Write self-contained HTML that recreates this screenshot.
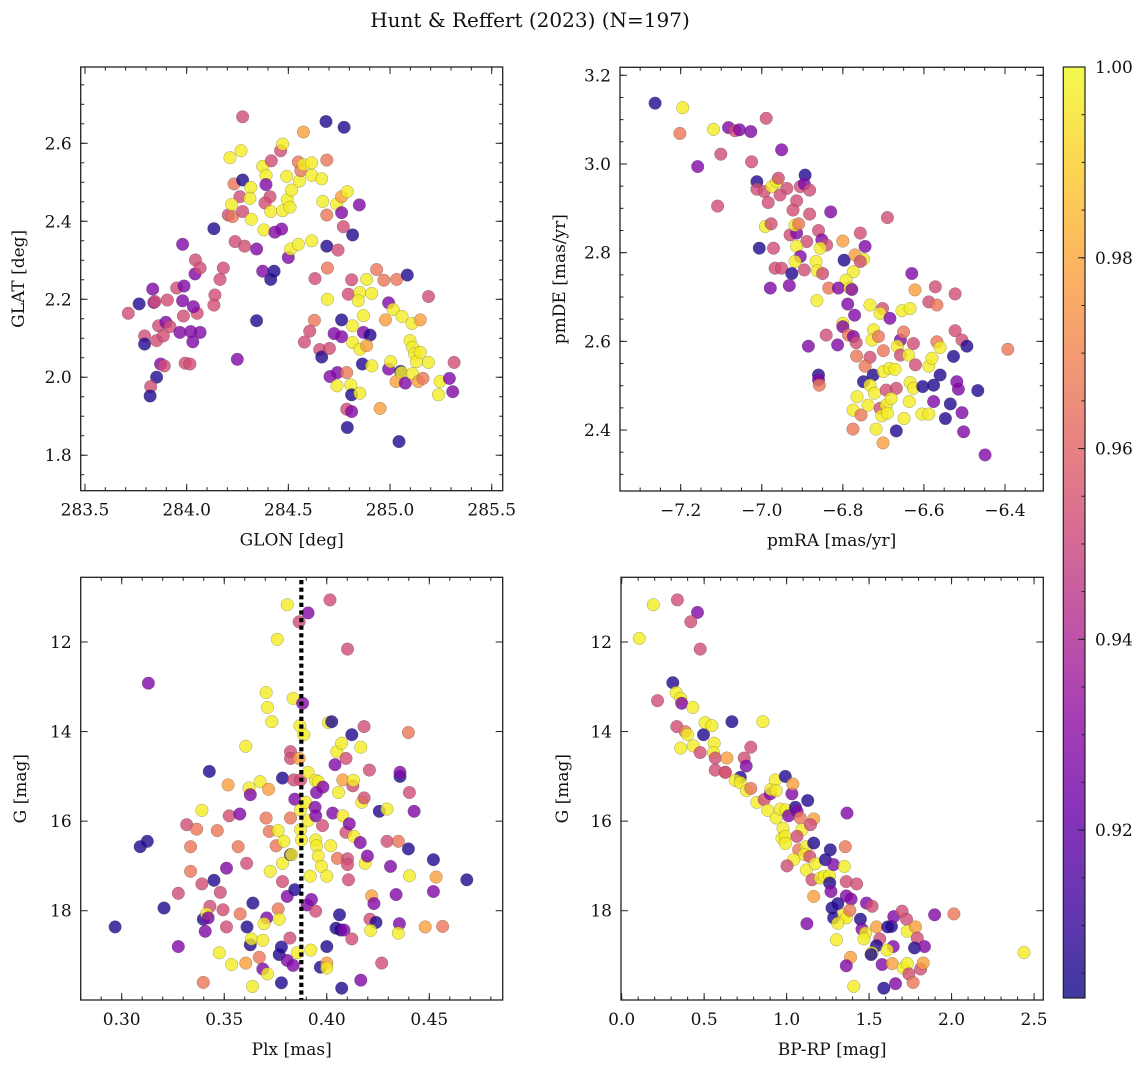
<!DOCTYPE html>
<html><head><meta charset="utf-8">
<style>
html,body{margin:0;padding:0;background:#fff;}
svg{display:block;font-family:"DejaVu Serif","Liberation Serif",serif;}
</style></head>
<body>
<svg id="fig" width="1148" height="1067" viewBox="0 0 1148 1067" xmlns="http://www.w3.org/2000/svg">
<text x="530" y="27" text-anchor="middle" font-size="20" fill="#111">Hunt &amp; Reffert (2023) (N=197)</text>
</svg>
<script>
// ---------- data ----------
const glon=[283.713,283.766,283.833,283.839,283.844,283.793,283.793,283.852,283.862,283.898,283.905,283.885,283.918,283.872,283.890,283.852,283.823,283.820,283.951,283.987,283.980,283.980,283.984,283.967,284.020,284.030,284.066,284.052,284.033,283.993,284.016,284.041,284.043,284.066,284.134,284.164,284.180,284.139,284.134,284.249,284.344,284.238,284.285,284.344,284.275,284.205,284.226,284.275,284.262,284.233,284.275,284.213,284.267,284.221,284.315,284.311,284.318,284.374,284.390,284.390,284.416,284.380,284.410,284.385,284.413,284.434,284.467,284.374,284.413,284.430,284.462,284.472,284.472,284.495,284.492,284.508,284.516,284.500,284.511,284.549,284.554,284.549,284.561,284.574,284.574,284.615,284.615,284.615,284.664,284.685,284.689,284.774,284.669,284.689,284.738,284.762,284.790,284.762,284.770,284.816,284.849,284.689,284.744,284.631,284.692,284.692,284.811,284.795,284.852,284.844,284.885,284.910,284.934,284.970,285.033,285.085,285.189,284.993,285.015,284.977,285.059,285.108,285.149,284.628,284.605,284.579,284.654,284.664,284.702,284.725,284.762,284.762,284.816,284.869,284.869,284.902,284.816,284.852,284.885,284.864,284.910,284.705,284.741,284.787,284.739,284.807,284.811,284.852,284.787,284.811,284.790,284.951,284.993,285.003,285.052,285.030,285.057,285.075,285.098,285.111,285.121,285.130,285.149,285.111,285.139,285.162,285.189,285.246,285.238,285.292,285.308,285.315,285.044];
const glat=[2.164,2.188,2.226,2.192,2.194,2.106,2.085,2.094,2.132,2.141,2.198,2.106,2.130,2.034,2.029,2.000,1.976,1.952,2.229,2.234,2.196,2.341,2.157,2.115,2.117,2.091,2.115,2.164,2.181,2.036,2.034,2.265,2.301,2.280,2.381,2.251,2.280,2.211,2.185,2.046,2.145,2.348,2.336,2.329,2.668,2.416,2.412,2.425,2.463,2.496,2.506,2.563,2.581,2.443,2.487,2.459,2.405,2.541,2.518,2.494,2.555,2.378,2.463,2.447,2.425,2.372,2.380,2.272,2.251,2.272,2.581,2.598,2.427,2.455,2.515,2.436,2.480,2.307,2.329,2.341,2.503,2.552,2.530,2.629,2.545,2.550,2.518,2.350,2.509,2.656,2.557,2.641,2.451,2.416,2.444,2.463,2.476,2.422,2.386,2.365,2.442,2.336,2.326,2.253,2.280,2.200,2.250,2.213,2.217,2.196,2.251,2.215,2.276,2.249,2.251,2.262,2.207,2.191,2.174,2.147,2.156,2.138,2.147,2.146,2.118,2.090,2.071,2.052,2.074,2.112,2.104,2.147,2.132,2.158,2.115,2.108,2.089,2.072,2.081,2.034,2.029,2.002,2.012,2.012,1.978,1.980,1.955,1.959,1.918,1.912,1.871,1.920,2.021,2.040,2.015,1.989,2.012,1.985,2.094,2.077,2.060,2.040,2.064,2.009,1.989,1.997,2.038,1.989,1.955,1.997,1.963,2.038,1.835];
const probA=[0.953,0.906,0.928,0.928,0.953,0.953,0.906,0.953,0.953,0.928,0.953,0.953,0.953,0.928,0.953,0.906,0.953,0.906,0.953,0.928,0.928,0.928,0.953,0.928,0.928,0.928,0.928,0.953,0.928,0.953,0.953,0.928,0.953,0.953,0.906,0.953,0.953,0.953,0.953,0.928,0.906,0.953,0.953,0.928,0.953,0.953,0.966,0.953,0.953,0.966,0.906,0.997,0.997,0.997,0.997,0.997,0.997,0.997,0.997,0.928,0.953,0.997,0.953,0.953,0.997,0.928,0.928,0.928,0.906,0.906,0.953,0.997,0.997,0.997,0.997,0.997,0.997,0.928,0.997,0.997,0.997,0.966,0.966,0.978,0.997,0.997,0.997,0.997,0.997,0.906,0.966,0.906,0.997,0.966,0.997,0.978,0.997,0.928,0.953,0.906,0.928,0.906,0.953,0.953,0.966,0.997,0.953,0.953,0.997,0.997,0.997,0.997,0.966,0.966,0.966,0.906,0.953,0.928,0.997,0.978,0.997,0.997,0.978,0.966,0.953,0.953,0.953,0.906,0.953,0.928,0.928,0.906,0.997,0.997,0.928,0.906,0.997,0.997,0.978,0.906,0.997,0.928,0.928,0.966,0.997,0.997,0.906,0.997,0.953,0.928,0.906,0.978,0.928,0.997,0.906,0.978,0.997,0.928,0.997,0.997,0.997,0.997,0.997,0.997,0.978,0.966,0.997,0.997,0.997,0.928,0.928,0.953,0.906];

const pmra=[-7.263,-7.195,-7.202,-7.119,-7.082,-7.066,-7.055,-7.027,-6.989,-6.951,-7.101,-7.158,-7.025,-7.109,-7.012,-7.012,-6.994,-6.975,-6.963,-6.959,-6.938,-6.955,-6.984,-6.914,-6.905,-6.893,-6.895,-6.882,-6.923,-6.882,-6.830,-6.991,-6.977,-6.930,-6.914,-6.918,-6.909,-6.889,-6.860,-6.852,-6.840,-6.856,-6.914,-6.971,-7.006,-6.905,-6.918,-6.895,-6.967,-6.951,-6.926,-6.979,-6.932,-6.866,-6.863,-6.850,-6.835,-6.864,-6.800,-6.797,-6.770,-6.757,-6.745,-6.749,-6.757,-6.774,-6.792,-6.811,-6.782,-6.778,-6.788,-6.771,-6.690,-6.630,-6.622,-6.572,-6.523,-6.588,-6.568,-6.733,-6.702,-6.708,-6.684,-6.654,-6.634,-6.800,-6.800,-6.786,-6.774,-6.767,-6.724,-6.728,-6.712,-6.841,-6.813,-6.885,-6.658,-6.650,-6.626,-6.666,-6.568,-6.560,-6.523,-6.506,-6.494,-6.393,-6.766,-6.733,-6.700,-6.745,-6.725,-6.700,-6.685,-6.671,-6.658,-6.638,-6.621,-6.588,-6.580,-6.527,-6.560,-6.860,-6.860,-6.858,-6.749,-6.733,-6.722,-6.693,-6.668,-6.634,-6.626,-6.603,-6.576,-6.519,-6.515,-6.467,-6.765,-6.775,-6.755,-6.738,-6.708,-6.693,-6.681,-6.704,-6.690,-6.649,-6.636,-6.605,-6.588,-6.576,-6.547,-6.535,-6.506,-6.502,-6.775,-6.718,-6.668,-6.701,-6.449];
const pmde=[3.137,3.127,3.069,3.078,3.082,3.075,3.077,3.073,3.103,3.032,3.022,2.994,3.005,2.905,2.960,2.943,2.938,2.949,2.960,2.968,2.945,2.930,2.913,2.917,2.949,2.975,2.955,2.941,2.896,2.887,2.892,2.859,2.865,2.840,2.844,2.862,2.865,2.825,2.850,2.829,2.817,2.810,2.814,2.810,2.810,2.791,2.780,2.761,2.765,2.765,2.753,2.720,2.726,2.780,2.759,2.753,2.720,2.692,2.826,2.783,2.795,2.844,2.814,2.785,2.780,2.757,2.738,2.720,2.720,2.717,2.684,2.659,2.879,2.753,2.716,2.723,2.707,2.689,2.682,2.682,2.674,2.663,2.652,2.669,2.674,2.641,2.633,2.614,2.611,2.597,2.626,2.603,2.611,2.614,2.592,2.589,2.603,2.621,2.595,2.589,2.599,2.586,2.624,2.603,2.589,2.582,2.567,2.564,2.579,2.544,2.524,2.532,2.539,2.537,2.569,2.569,2.547,2.544,2.562,2.566,2.524,2.524,2.513,2.501,2.509,2.501,2.483,2.490,2.494,2.507,2.494,2.498,2.501,2.509,2.492,2.489,2.475,2.445,2.434,2.456,2.449,2.456,2.471,2.432,2.438,2.426,2.464,2.436,2.436,2.464,2.426,2.459,2.439,2.396,2.402,2.402,2.398,2.371,2.344];
const probB=[0.906,0.997,0.966,0.997,0.928,0.953,0.928,0.928,0.953,0.928,0.953,0.928,0.953,0.953,0.906,0.953,0.953,0.997,0.997,0.953,0.953,0.953,0.953,0.953,0.953,0.906,0.928,0.953,0.953,0.953,0.928,0.997,0.953,0.953,0.928,0.997,0.966,0.953,0.953,0.928,0.953,0.997,0.997,0.953,0.906,0.928,0.997,0.953,0.953,0.953,0.906,0.928,0.928,0.997,0.997,0.953,0.966,0.997,0.978,0.906,0.978,0.953,0.928,0.997,0.953,0.997,0.997,0.928,0.997,0.928,0.928,0.928,0.953,0.928,0.978,0.953,0.953,0.953,0.966,0.997,0.953,0.997,0.928,0.997,0.997,0.997,0.928,0.966,0.928,0.953,0.997,0.997,0.966,0.953,0.928,0.928,0.928,0.966,0.953,0.997,0.966,0.997,0.953,0.953,0.906,0.966,0.966,0.953,0.966,0.966,0.906,0.997,0.997,0.997,0.953,0.997,0.953,0.997,0.997,0.906,0.906,0.906,0.928,0.966,0.906,0.997,0.997,0.953,0.953,0.997,0.997,0.906,0.906,0.928,0.928,0.906,0.997,0.997,0.966,0.997,0.953,0.997,0.997,0.997,0.997,0.997,0.997,0.997,0.997,0.928,0.906,0.906,0.928,0.928,0.966,0.997,0.906,0.978,0.928];

const plx=[0.2968,0.3090,0.3125,0.3130,0.3206,0.3276,0.3276,0.3317,0.3365,0.3336,0.3336,0.3391,0.3391,0.3398,0.3398,0.3430,0.3414,0.3422,0.3407,0.3427,0.3450,0.3466,0.3476,0.3481,0.3494,0.3511,0.3511,0.3519,0.3524,0.3536,0.3568,0.3576,0.3578,0.3605,0.3609,0.3605,0.3611,0.3621,0.3627,0.3640,0.3627,0.3633,0.3638,0.3675,0.3671,0.3688,0.3704,0.3704,0.3707,0.3694,0.3688,0.3711,0.3711,0.3716,0.3720,0.3724,0.3732,0.3759,0.3763,0.3753,0.3763,0.3768,0.3768,0.3779,0.3779,0.3784,0.3784,0.3784,0.3791,0.3807,0.3807,0.3807,0.3820,0.3823,0.3828,0.3823,0.3823,0.3823,0.3836,0.3836,0.3839,0.3844,0.3844,0.3856,0.3865,0.3865,0.3869,0.3872,0.3872,0.3872,0.3877,0.3882,0.3888,0.3898,0.3909,0.3909,0.3904,0.3909,0.3925,0.3946,0.3922,0.3919,0.3943,0.3946,0.3946,0.3958,0.3950,0.3946,0.3950,0.3958,0.3974,0.3979,0.3969,0.3981,0.4000,0.4000,0.4000,0.4000,0.4008,0.4019,0.4016,0.4024,0.4029,0.4040,0.4052,0.4057,0.4049,0.4062,0.4045,0.4068,0.4073,0.4078,0.4073,0.4078,0.4084,0.4094,0.4094,0.4101,0.4101,0.4101,0.4106,0.4110,0.4122,0.4127,0.4130,0.4133,0.4122,0.4163,0.4166,0.4166,0.4171,0.4182,0.4182,0.4187,0.4198,0.4208,0.4211,0.4219,0.4230,0.4240,0.4214,0.4256,0.4268,0.4294,0.4294,0.4311,0.4338,0.4349,0.4357,0.4357,0.4354,0.4349,0.4398,0.4398,0.4403,0.4403,0.4426,0.4480,0.4520,0.4520,0.4533,0.4565,0.4683];
const gmagA=[18.36,16.57,16.45,12.92,17.94,18.80,17.61,16.08,16.18,16.57,17.12,17.40,15.76,19.60,18.19,17.90,18.07,18.16,18.46,14.89,17.32,16.21,18.94,17.59,17.98,18.36,17.05,15.19,15.88,19.20,16.57,15.84,18.07,19.17,16.94,14.33,18.36,15.26,15.41,17.83,18.76,18.63,19.69,15.12,19.04,19.30,15.93,13.13,18.16,18.29,18.66,13.46,19.41,15.29,16.23,17.12,13.78,11.94,16.21,16.55,17.96,18.19,18.98,18.81,19.61,15.04,17.35,16.94,16.45,19.11,17.68,11.17,18.61,16.75,16.75,15.93,14.45,14.60,13.26,19.22,15.08,15.51,17.53,18.94,11.55,14.60,13.87,15.08,15.75,16.19,16.42,13.37,14.07,15.58,15.99,11.35,17.87,14.91,17.75,18.01,18.88,17.23,15.69,15.88,15.09,15.12,15.36,16.42,16.55,16.78,17.01,16.10,19.26,15.24,19.17,19.28,18.80,17.23,13.80,16.55,11.06,13.78,15.82,14.74,16.83,15.36,14.45,18.09,18.39,18.43,19.73,15.08,14.26,15.88,18.43,14.60,16.25,12.16,16.84,16.97,17.31,16.06,14.07,15.21,15.09,16.34,18.63,16.48,14.35,19.55,15.58,15.48,13.89,16.94,16.78,14.86,18.19,17.67,17.84,18.26,18.44,15.78,19.17,15.73,16.45,17.01,17.64,16.45,15.00,14.91,18.29,18.50,14.02,16.62,17.22,15.36,15.78,18.36,16.86,17.57,17.25,18.35,17.31];
const probC=[0.906,0.906,0.906,0.928,0.906,0.928,0.953,0.953,0.966,0.966,0.966,0.953,0.997,0.966,0.906,0.953,0.997,0.928,0.928,0.906,0.906,0.966,0.997,0.953,0.953,0.953,0.928,0.978,0.953,0.997,0.966,0.928,0.966,0.978,0.953,0.997,0.906,0.997,0.928,0.906,0.906,0.997,0.997,0.997,0.966,0.928,0.966,0.997,0.928,0.997,0.997,0.997,0.997,0.978,0.966,0.997,0.997,0.997,0.997,0.966,0.966,0.997,0.906,0.906,0.906,0.906,0.953,0.997,0.997,0.928,0.928,0.997,0.953,0.906,0.997,0.966,0.953,0.953,0.997,0.928,0.953,0.928,0.906,0.997,0.953,0.978,0.997,0.953,0.997,0.997,0.997,0.928,0.997,0.997,0.997,0.928,0.928,0.997,0.928,0.953,0.997,0.997,0.928,0.928,0.997,0.997,0.928,0.997,0.997,0.997,0.997,0.953,0.906,0.928,0.978,0.997,0.906,0.997,0.997,0.997,0.953,0.906,0.928,0.928,0.966,0.997,0.997,0.906,0.906,0.906,0.906,0.978,0.997,0.997,0.928,0.953,0.953,0.953,0.953,0.953,0.953,0.928,0.906,0.953,0.997,0.997,0.953,0.928,0.997,0.928,0.997,0.953,0.953,0.997,0.928,0.953,0.953,0.978,0.928,0.906,0.997,0.906,0.953,0.997,0.953,0.928,0.928,0.966,0.906,0.928,0.928,0.997,0.966,0.906,0.997,0.953,0.928,0.978,0.906,0.928,0.978,0.966,0.906];

const bprp=[0.107,0.192,0.338,0.460,0.419,0.476,0.310,0.217,0.330,0.358,0.364,0.431,0.334,0.385,0.399,0.358,0.435,0.476,0.496,0.506,0.547,0.561,0.557,0.567,0.668,0.567,0.628,0.638,0.743,0.755,0.783,0.856,0.628,0.719,0.688,0.719,0.757,0.783,0.820,0.864,0.901,0.905,0.931,0.937,0.885,0.937,0.962,0.992,0.996,0.978,0.972,0.992,0.992,1.012,1.032,1.038,1.053,1.063,1.083,1.093,1.128,1.164,1.144,1.063,1.073,1.119,1.164,1.107,1.043,1.002,1.119,1.140,1.174,1.154,1.164,1.204,1.229,1.261,1.265,1.235,1.261,1.269,1.285,1.350,1.366,1.356,1.362,1.425,1.362,1.391,1.275,1.310,1.285,1.346,1.362,1.310,1.383,1.123,1.302,1.447,1.457,1.484,1.518,1.478,1.468,1.545,1.565,1.545,1.518,1.512,1.387,1.362,1.407,1.613,1.636,1.650,1.646,1.609,1.579,1.640,1.700,1.727,1.731,1.781,1.792,1.775,1.836,1.706,1.731,1.741,1.767,1.812,1.828,1.660,1.589,1.897,2.014,2.439];
const gmagB=[11.92,11.17,11.06,11.34,11.55,12.16,12.91,13.31,13.13,13.26,13.37,13.46,13.89,14.00,14.07,14.37,14.32,14.47,14.07,13.80,13.87,14.26,14.47,14.59,13.78,14.86,14.91,14.59,14.59,14.77,14.35,13.78,14.91,15.02,15.09,15.14,15.32,15.27,15.58,15.52,15.39,15.29,15.08,15.32,15.76,15.93,15.73,15.00,15.75,16.16,16.38,16.34,16.50,15.88,15.39,15.17,15.69,15.78,15.93,16.19,15.54,15.95,16.08,16.34,16.64,16.57,16.49,16.75,16.86,17.00,17.09,16.79,16.95,17.31,17.68,17.27,17.23,17.22,16.64,16.86,17.38,17.57,16.97,17.01,15.82,16.57,17.35,17.40,17.67,17.74,17.94,17.84,18.16,18.09,18.16,18.28,17.99,18.29,18.65,18.19,18.41,17.83,17.90,18.50,18.63,18.36,18.63,18.78,18.94,18.98,19.04,19.23,19.69,18.36,18.35,18.13,18.80,18.88,19.20,19.18,18.01,18.19,18.46,18.36,18.61,18.83,18.80,19.28,19.18,19.41,19.60,19.30,19.17,19.63,19.73,18.09,18.07,18.93];
const probD=[0.997,0.997,0.953,0.928,0.953,0.953,0.906,0.953,0.997,0.997,0.928,0.997,0.953,0.966,0.997,0.997,0.997,0.953,0.906,0.997,0.997,0.997,0.997,0.953,0.906,0.953,0.966,0.978,0.953,0.928,0.953,0.997,0.953,0.906,0.997,0.997,0.997,0.966,0.997,0.953,0.928,0.997,0.997,0.997,0.997,0.997,0.997,0.906,0.997,0.997,0.997,0.997,0.997,0.928,0.928,0.978,0.906,0.928,0.966,0.997,0.906,0.978,0.953,0.953,0.966,0.997,0.906,0.997,0.997,0.953,0.997,0.953,0.997,0.953,0.978,0.997,0.997,0.997,0.906,0.906,0.906,0.928,0.928,0.997,0.928,0.966,0.953,0.953,0.928,0.928,0.906,0.906,0.906,0.997,0.997,0.997,0.966,0.928,0.997,0.906,0.928,0.928,0.953,0.997,0.997,0.978,0.953,0.906,0.997,0.906,0.978,0.928,0.997,0.906,0.906,0.928,0.928,0.997,0.928,0.978,0.953,0.953,0.997,0.978,0.953,0.906,0.928,0.997,0.997,0.953,0.966,0.953,0.978,0.928,0.906,0.928,0.966,0.997];

const plxMedian=[0.3876];
const cbTicks=[0.92,0.94,0.96,0.98,1.00];
const cbMin=0.9024, cbMax=1.0;

// ---------- helpers ----------
const NS="http://www.w3.org/2000/svg";
const svg=document.getElementById('fig');
function mk(tag,attrs,parent){const e=document.createElementNS(NS,tag);for(const k in attrs)e.setAttribute(k,attrs[k]);(parent||svg).appendChild(e);return e;}
const plasmaStops=[[13,8,135],[65,4,157],[106,0,168],[143,13,164],[177,42,144],[204,71,120],[225,100,98],[242,132,75],[252,166,54],[252,206,37],[240,249,33]];
function plasma(t){t=Math.max(0,Math.min(1,t));const s=t*10,i=Math.min(9,Math.floor(s)),f=s-i;const a=plasmaStops[i],b=plasmaStops[i+1];
 return 'rgb('+[0,1,2].map(k=>Math.round(a[k]+(b[k]-a[k])*f)).join(',')+')';}
function cmap(v){return plasma((v-cbMin)/(cbMax-cbMin));}
function fmt(v,d){const s=Math.abs(v).toFixed(d);return (v<-1e-9?'\u2212':'')+s;}
const FS=17;

function panel(cfg){
 const g=mk('g',{});
 
 
 const sx=v=>cfg.px[0]+(v-cfg.xd[0])/(cfg.xd[1]-cfg.xd[0])*(cfg.px[1]-cfg.px[0]);
 const sy=v=>cfg.py[1]-(v-cfg.yd[0])/(cfg.yd[1]-cfg.yd[0])*(cfg.py[1]-cfg.py[0]);
 const pg=mk('g',{},g);
 
 
 for(let i=0;i<cfg.x.length;i++){
  const c=mk('circle',{cx:sx(cfg.x[i]).toFixed(1),cy:sy(cfg.y[i]).toFixed(1),r:6.3,fill:cmap(cfg.c[i]),'fill-opacity':0.8,stroke:'rgba(60,60,60,0.45)','stroke-width':0.5},pg);
  
  
 }
 if(cfg.extra)cfg.extra(g,sx,sy);
 const fr=mk('rect',{x:cfg.px[0],y:cfg.py[0],width:cfg.px[1]-cfg.px[0],height:cfg.py[1]-cfg.py[0],fill:'none',stroke:'#222','stroke-width':1.3},g);
 
 
 const tg=mk('g',{stroke:'#222','stroke-width':1},g);
 
 
 const lo=(a,b,st)=>{const r=[];for(let v=Math.ceil(a/st-1e-6)*st;v<=b+1e-9;v+=st)r.push(+v.toFixed(6));return r;};
 lo(cfg.xd[0],cfg.xd[1],cfg.xminor).forEach(v=>{const X=sx(v);mk('line',{x1:X,x2:X,y1:cfg.py[1],y2:cfg.py[1]-3.5},tg);mk('line',{x1:X,x2:X,y1:cfg.py[0],y2:cfg.py[0]+3.5},tg);});
 lo(cfg.yd[0],cfg.yd[1],cfg.yminor).forEach(v=>{const Y=sy(v);mk('line',{x1:cfg.px[0],x2:cfg.px[0]+3.5,y1:Y,y2:Y},tg);mk('line',{x1:cfg.px[1],x2:cfg.px[1]-3.5,y1:Y,y2:Y},tg);});
 cfg.xt.forEach(v=>{const X=sx(v);mk('line',{x1:X,x2:X,y1:cfg.py[1],y2:cfg.py[1]-7},tg);mk('line',{x1:X,x2:X,y1:cfg.py[0],y2:cfg.py[0]+7},tg);
  const t=mk('text',{x:X,y:cfg.py[1]+25,'text-anchor':'middle','font-size':FS,fill:'#111'},g);t.textContent=fmt(v,cfg.xdec);
  
  });
 cfg.yt.forEach(v=>{const Y=sy(v);mk('line',{x1:cfg.px[0],x2:cfg.px[0]+7,y1:Y,y2:Y},tg);mk('line',{x1:cfg.px[1],x2:cfg.px[1]-7,y1:Y,y2:Y},tg);
  const t=mk('text',{x:cfg.px[0]-9,y:Y+6,'text-anchor':'end','font-size':FS,fill:'#111'},g);t.textContent=fmt(v,cfg.ydec);
  
  });
 const xl=mk('text',{x:(cfg.px[0]+cfg.px[1])/2,y:cfg.py[1]+55,'text-anchor':'middle','font-size':FS,fill:'#111'},g);xl.textContent=cfg.xlabel;
 
 
 const yx=cfg.ylx, yy=(cfg.py[0]+cfg.py[1])/2;
 const yl=mk('text',{x:yx,y:yy,'text-anchor':'middle','font-size':FS,fill:'#111',transform:'rotate(-90 '+yx+' '+yy+')'},g);yl.textContent=cfg.ylabel;
 
 
}

panel({name:'glon-glat-panel',x:glon,y:glat,c:probA,px:[80.7,502.7],py:[67,490.7],xd:[283.479,285.554],yd:[1.709,2.7957],
 xt:[283.5,284.0,284.5,285.0,285.5],yt:[1.8,2.0,2.2,2.4,2.6],xminor:0.1,yminor:0.05,xdec:1,ydec:1,xlabel:'GLON [deg]',ylabel:'GLAT [deg]',ylx:24});
panel({name:'proper-motion-panel',x:pmra,y:pmde,c:probB,px:[620,1043.3],py:[67.3,491],xd:[-7.3497,-6.3055],yd:[2.2625,3.218],
 xt:[-7.2,-7.0,-6.8,-6.6,-6.4],yt:[2.4,2.6,2.8,3.0,3.2],xminor:0.05,yminor:0.05,xdec:1,ydec:1,xlabel:'pmRA [mas/yr]',ylabel:'pmDE [mas/yr]',ylx:565});
panel({name:'parallax-panel',x:plx,y:gmagA,c:probC,px:[80.7,502.7],py:[577.3,1000],xd:[0.28,0.4858],yd:[19.993,10.556],
 xt:[0.30,0.35,0.40,0.45],yt:[12,14,16,18],xminor:0.01,yminor:0.5,xdec:2,ydec:0,xlabel:'Plx [mas]',ylabel:'G [mag]',ylx:26,
 extra:(g,sx,sy)=>{plxMedian.forEach(v=>{const X=sx(v);const l=mk('line',{x1:X,x2:X,y1:580,y2:1000,stroke:'#000','stroke-width':4.2,'stroke-dasharray':'4.2 3.4'},g);
  
  });}});
panel({name:'cmd-panel',x:bprp,y:gmagB,c:probD,px:[621,1043.3],py:[577.3,1000],xd:[-0.004,2.556],yd:[19.993,10.556],
 xt:[0.0,0.5,1.0,1.5,2.0,2.5],yt:[12,14,16,18],xminor:0.1,yminor:0.5,xdec:1,ydec:0,xlabel:'BP-RP [mag]',ylabel:'G [mag]',ylx:568});

(function(){
 const x0=1063.3,x1=1085,y0=67,y1=998;
 const defs=mk('defs',{});
 const lg=mk('linearGradient',{id:'cbg',x1:0,y1:1,x2:0,y2:0},defs);
 for(let i=0;i<=20;i++){mk('stop',{offset:(i/20),'stop-color':plasma(i/20)},lg);}
 const cb=mk('g',{});
 
 
 mk('rect',{x:x0,y:y0,width:x1-x0,height:y1-y0,fill:'url(#cbg)','fill-opacity':0.8},cb);
 mk('rect',{x:x0,y:y0,width:x1-x0,height:y1-y0,fill:'none',stroke:'#222','stroke-width':1.2},cb);
 const sy=v=>y1-(v-cbMin)/(cbMax-cbMin)*(y1-y0);
 for(let v=0.905;v<=1.0001;v+=0.005){const Y=sy(v);mk('line',{x1:x1,x2:x1-3.5,y1:Y,y2:Y,stroke:'#222','stroke-width':1},cb);}
 cbTicks.forEach(v=>{const Y=sy(v);mk('line',{x1:x1,x2:x1-7,y1:Y,y2:Y,stroke:'#222','stroke-width':1},cb);
  const t=mk('text',{x:1095,y:Y+6,'font-size':FS,fill:'#111'},cb);t.textContent=v.toFixed(2);
  
  });
})();
</script>
</body></html>
